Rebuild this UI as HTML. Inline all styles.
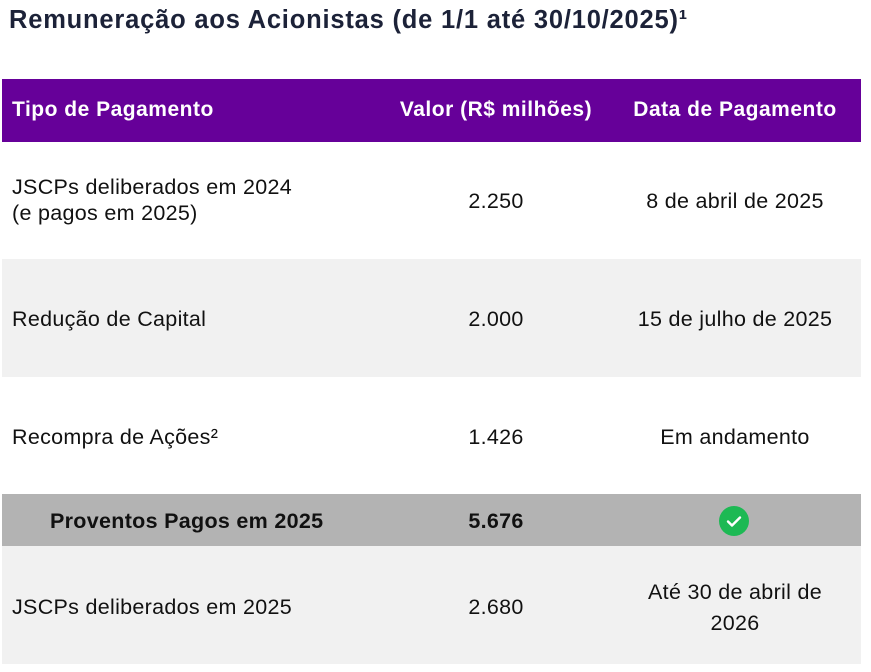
<!DOCTYPE html>
<html><head><meta charset="utf-8"><style>
body{margin:0;width:871px;height:672px;background:#fff;font-family:"Liberation Sans",sans-serif;position:relative;overflow:hidden;color:#111}
.t{position:absolute;left:9px;top:6px;font-size:25.5px;font-weight:bold;color:#1c2238;letter-spacing:0.8px}
.r{position:absolute;left:2px;width:859px}
.c{position:absolute;font-size:21.5px;white-space:nowrap;line-height:26px;letter-spacing:0.3px}
.l{left:10px}
.v{left:394px;width:200px;text-align:center}
.d{left:603px;width:260px;text-align:center}
.h .c{color:#fff;font-weight:bold;font-size:21px;letter-spacing:0.5px}
</style></head><body>
<div class="t">Remuneração aos Acionistas (de 1/1 até 30/10/2025)¹</div>
<div class="r h" style="top:79px;height:63px;background:#660099">
 <div class="c l" style="top:18px">Tipo de Pagamento</div>
 <div class="c v" style="top:18px">Valor (R$ milhões)</div>
 <div class="c d" style="top:18px">Data de Pagamento</div>
</div>
<div class="r" style="top:142px;height:117px;background:#fff">
 <div class="c l" style="top:32px">JSCPs deliberados em 2024<br>(e pagos em 2025)</div>
 <div class="c v" style="top:46px">2.250</div>
 <div class="c d" style="top:46px">8 de abril de 2025</div>
</div>
<div class="r" style="top:259px;height:118px;background:#f1f1f1">
 <div class="c l" style="top:47px">Redução de Capital</div>
 <div class="c v" style="top:47px">2.000</div>
 <div class="c d" style="top:47px">15 de julho de 2025</div>
</div>
<div class="r" style="top:377px;height:117px;background:#fff">
 <div class="c l" style="top:47px">Recompra de Ações²</div>
 <div class="c v" style="top:47px">1.426</div>
 <div class="c d" style="top:47px">Em andamento</div>
</div>
<div class="r" style="top:494px;height:52px;background:#b3b3b3">
 <div class="c" style="left:48px;top:14px;font-weight:bold">Proventos Pagos em 2025</div>
 <div class="c v" style="top:14px;font-weight:bold">5.676</div>
 <div style="position:absolute;left:717px;top:12px;width:30px;height:30px;border-radius:50%;background:#1db954"><svg width="30" height="30"><path d="M9 15.5l4 4 8-8" stroke="#fff" stroke-width="2.4" fill="none" stroke-linecap="round" stroke-linejoin="round"/></svg></div>
</div>
<div class="r" style="top:546px;height:118px;background:#f1f1f1">
 <div class="c l" style="top:48px">JSCPs deliberados em 2025</div>
 <div class="c v" style="top:48px">2.680</div>
 <div class="c d" style="top:31px;line-height:31px">Até 30 de abril de<br>2026</div>
</div>
</body></html>
